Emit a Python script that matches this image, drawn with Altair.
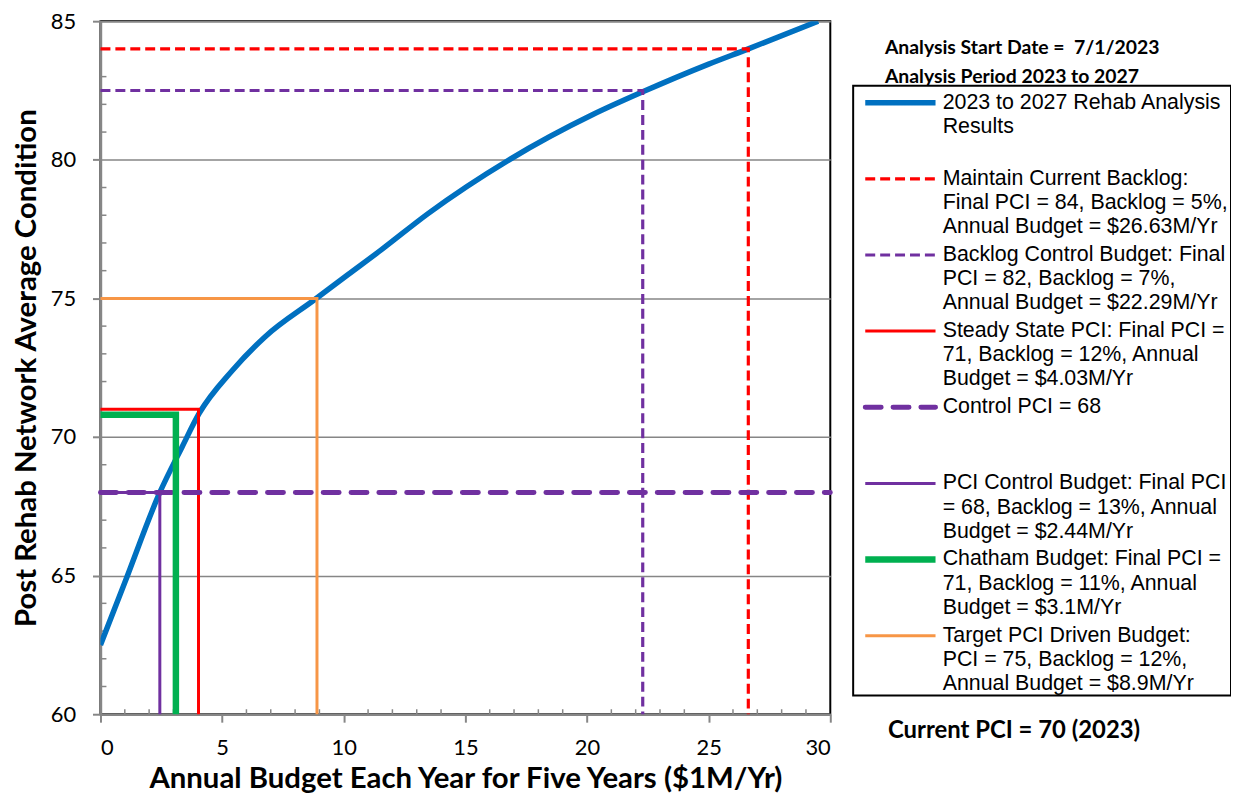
import altair as alt
import pandas as pd

# ---------------- data ----------------
budget = [0, 1, 2.44, 3.36, 4.05, 5.41, 6.77, 8.81, 10.18, 11.54, 13.45, 16.8, 20.26, 22.29, 25, 26.63, 29.5]
pci = [62.5, 64.75, 68.0, 69.65, 70.84, 72.39, 73.62, 74.96, 75.86, 76.75, 78.05, 80.0, 81.64, 82.45, 83.45, 84.0, 85.0]

series_names = ["Maintain Current Backlog", "Backlog Control Budget", "Steady State PCI",
                "Control PCI = 68", "PCI Control Budget", "Chatham Budget", "Target PCI Driven Budget"]
series_budget = [26.63, 22.29, 4.03, 30.0, 2.44, 3.1, 8.9]
series_pci = [84.0, 82.5, 71.0, 68.0, 68.0, 70.8, 75.0]

legend_keys = ["curve"] + series_names
legend_lines = [
    ["2023 to 2027 Rehab Analysis", "Results"],
    ["Maintain Current Backlog:", "Final PCI = 84, Backlog = 5%,", "Annual Budget = $26.63M/Yr"],
    ["Backlog Control Budget: Final", "PCI = 82, Backlog = 7%,", "Annual Budget = $22.29M/Yr"],
    ["Steady State PCI: Final PCI =", "71, Backlog = 12%, Annual", "Budget = $4.03M/Yr"],
    ["Control PCI = 68"],
    ["PCI Control Budget: Final PCI", "= 68, Backlog = 13%, Annual", "Budget = $2.44M/Yr"],
    ["Chatham Budget: Final PCI =", "71, Backlog = 11%, Annual", "Budget = $3.1M/Yr"],
    ["Target PCI Driven Budget:", "PCI = 75, Backlog = 12%,", "Annual Budget = $8.9M/Yr"],
]
note_texts = ["Analysis Start Date = \u00a07/1/2023", "Analysis Period 2023 to 2027", "Current PCI = 70 (2023)"]

x_ticks = [0, 5, 10, 15, 20, 25, 30]
y_ticks = [60, 65, 70, 75, 80, 85]

# ---------------- styles / layout ----------------
GRAY = "#868686"
styles = {
    "curve": dict(color="#0070C0", width=5.5, dash=[1, 0], cap="butt"),
    "Maintain Current Backlog": dict(color="#FF0000", width=3.2, dash=[10, 5], cap="butt"),
    "Backlog Control Budget": dict(color="#7030A0", width=3.2, dash=[10, 5], cap="butt"),
    "Steady State PCI": dict(color="#FF0000", width=3, dash=[1, 0], cap="butt"),
    "Control PCI = 68": dict(color="#7030A0", width=5, dash=[16, 12], cap="round"),
    "PCI Control Budget": dict(color="#7030A0", width=3, dash=[1, 0], cap="butt"),
    "Chatham Budget": dict(color="#00B050", width=6.5, dash=[1, 0], cap="butt"),
    "Target PCI Driven Budget": dict(color="#F79646", width=3, dash=[1, 0], cap="butt"),
}
W, H = 734, 697
PAD = {"left": 93, "top": 11, "right": 403, "bottom": 81}
LINE_STEP = 3.151          # entry pitch in legend line units
LEG_X = [757, 1137]        # legend panel pixel range (relative to plot origin)
LEG_Y = [82, 82 + 25 * 24.3]

xs = alt.Scale(domain=[0, 30], nice=False, zero=False)
ys = alt.Scale(domain=[60, 85], nice=False, zero=False)

# ---------------- main plot ----------------
curve_df = pd.DataFrame({"x": budget, "y": pci})

rows = []
for name, bx, py in zip(series_names, series_budget, series_pci):
    if name == "Control PCI = 68":
        pts = [(0, py), (bx, py)]
    else:
        pts = [(0, py), (bx, py), (bx, 60)]
    for i, (a, b) in enumerate(pts):
        rows.append({"series": name, "o": i, "x": a, "y": b})
lines_df = pd.DataFrame(rows)

x_axis = alt.Axis(values=x_ticks, title="Annual Budget Each Year for Five Years ($1M/Yr)", grid=False,
                  domainColor=GRAY, domainWidth=2.5, tickColor=GRAY, tickWidth=2, tickSize=8,
                  labelFont="Lato", labelFontSize=22, labelColor="black", labelPadding=16,
                  titleFont="Lato", titleFontSize=29.5, titleFontWeight="bold", titleColor="black",
                  titlePadding=6)
y_axis = alt.Axis(values=y_ticks, title="Post Rehab Network Average Condition", grid=True,
                  gridColor=GRAY, gridWidth=1.5,
                  domainColor=GRAY, domainWidth=2.5, tickColor=GRAY, tickWidth=2, tickSize=8,
                  labelFont="Lato", labelFontSize=22, labelColor="black", labelPadding=17,
                  titleFont="Lato", titleFontSize=29.5, titleFontWeight="bold", titleColor="black",
                  titlePadding=9)

layers = []
# minor ticks
minor_x = pd.DataFrame({"mx": [v for v in range(1, 30) if v % 5]})
minor_y = pd.DataFrame({"my": [v for v in range(61, 85) if v % 5]})
layers.append(alt.Chart(minor_x).mark_rule(color=GRAY, strokeWidth=1.5).encode(
    x=alt.X("mx:Q", scale=xs, axis=x_axis), y=alt.value(H), y2=alt.value(H - 5)))
layers.append(alt.Chart(minor_y).mark_rule(color=GRAY, strokeWidth=1.5).encode(
    y=alt.Y("my:Q", scale=ys, axis=y_axis), x=alt.value(0), x2=alt.value(6)))

layers.append(alt.Chart(curve_df).mark_line(
    color=styles["curve"]["color"], strokeWidth=styles["curve"]["width"],
    interpolate="monotone", clip=True).encode(
    x=alt.X("x:Q", scale=xs), y=alt.Y("y:Q", scale=ys)))

for name in series_names:
    st = styles[name]
    layers.append(alt.Chart(lines_df).transform_filter(alt.datum.series == name).mark_line(
        color=st["color"], strokeWidth=st["width"], strokeDash=st["dash"], strokeCap=st["cap"],
        strokeJoin="miter").encode(
        x=alt.X("x:Q", scale=xs), y=alt.Y("y:Q", scale=ys), order="o:Q"))

main = alt.layer(*layers)

# ---------------- legend panel ----------------
lx = alt.Scale(domain=[0, 1], range=LEG_X)
ly = alt.Scale(domain=[0, 25], range=LEG_Y)

text_rows, sym_rows = [], []
for k, (key, lines) in enumerate(zip(legend_keys, legend_lines)):
    y0 = k * LINE_STEP
    for j, t in enumerate(lines):
        text_rows.append({"tx": 0.2368, "ty": y0 + j, "text": t})
    sym_rows.append({"key": key, "x0": 0.032, "x1": 0.218, "sy": y0})
text_df = pd.DataFrame(text_rows)
sym_df = pd.DataFrame(sym_rows)

leg_layers = []
box_df = pd.DataFrame({"bx0": [0.0], "bx1": [1.0], "by0": [-0.70], "by1": [24.53]})
leg_layers.append(alt.Chart(box_df).mark_rect(fill="white", fillOpacity=0, stroke="black", strokeWidth=2).encode(
    x=alt.X("bx0:Q", scale=lx, axis=None), x2="bx1:Q",
    y=alt.Y("by0:Q", scale=ly, axis=None), y2="by1:Q"))
for key in legend_keys:
    st = styles[key]
    leg_layers.append(alt.Chart(sym_df).transform_filter(alt.datum.key == key).mark_rule(
        color=st["color"], strokeWidth=st["width"], strokeDash=st["dash"], strokeCap=st["cap"]).encode(
        x=alt.X("x0:Q", scale=lx, axis=None), x2="x1:Q",
        y=alt.Y("sy:Q", scale=ly, axis=None)))
leg_layers.append(alt.Chart(text_df).mark_text(
    align="left", baseline="middle", font="Liberation Sans", fontSize=21.5, color="black").encode(
    x=alt.X("tx:Q", scale=lx, axis=None), y=alt.Y("ty:Q", scale=ly, axis=None), text="text:N"))

note_df = pd.DataFrame({"text": note_texts,
                        "nx": [0.084, 0.084, 0.092],
                        "ny": [-2.25, -1.08, 26.0],
                        "fs": [19.5, 19.5, 24]})
for fs in [19.5, 24]:
    leg_layers.append(alt.Chart(note_df).transform_filter(alt.datum.fs == fs).mark_text(
        align="left", baseline="middle", font="Lato", fontWeight="bold", fontSize=fs, color="black").encode(
        x=alt.X("nx:Q", scale=lx, axis=None), y=alt.Y("ny:Q", scale=ly, axis=None), text="text:N"))

legend = alt.layer(*leg_layers)

chart = alt.layer(main, legend).resolve_scale(x="independent", y="independent").properties(
    width=W, height=H, padding=PAD, autosize=alt.AutoSizeParams(type="none"), background="white"
).configure_view(stroke="black", strokeWidth=2)

chart.save("out.html", embed_options={"renderer": "svg", "actions": False})
